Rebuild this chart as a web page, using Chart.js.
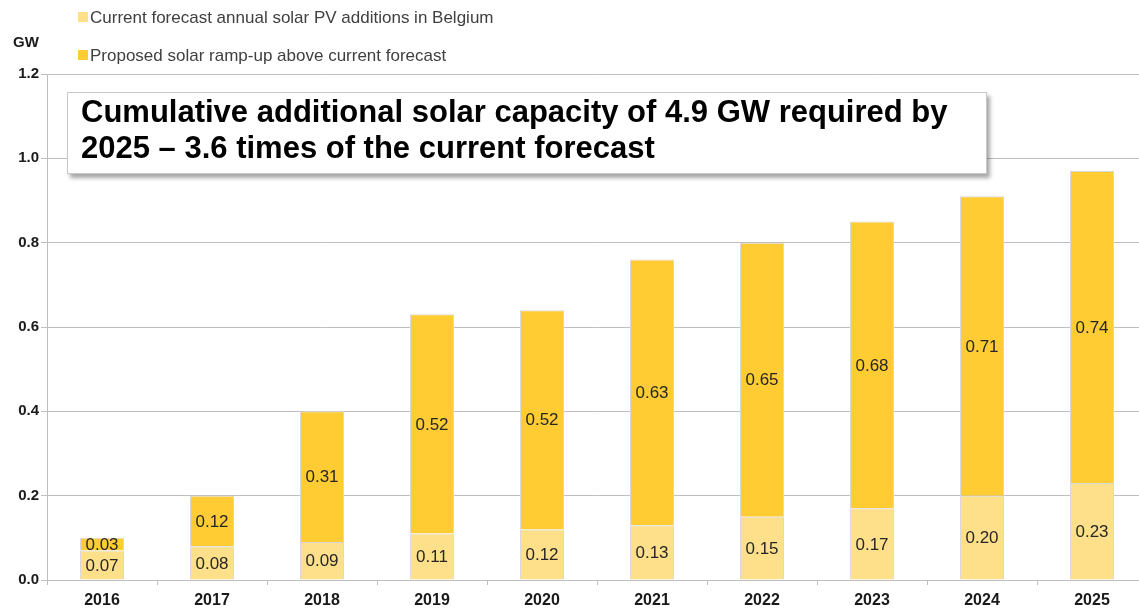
<!DOCTYPE html>
<html>
<head>
<meta charset="utf-8">
<script src="https://cdn.jsdelivr.net/npm/chart.js@4.4.1/dist/chart.umd.min.js"></script>
<style>
  html, body { margin: 0; padding: 0; background: #fff; overflow: hidden; }
  #wrap { position: relative; width: 1139px; height: 610px; overflow: hidden; font-family: "Liberation Sans", Arial, sans-serif; }
  canvas { position: absolute; left: 0; top: 0; }
  .legend-item { position: absolute; left: 78px; font-size: 17px; color: #404040; white-space: nowrap; }
  .legend-item span { display: inline-block; width: 10px; height: 10px; margin-right: 2px; vertical-align: 1px; }
  #unit { position: absolute; left: 13px; top: 33px; font-size: 15px; font-weight: bold; color: #1a1a1a; }
  #titlebox {
    position: absolute; left: 67px; top: 92px; width: 905px; height: 79px;
    background: #fff; border: 1px solid #c8c8c8; box-shadow: 3px 4px 4px rgba(0,0,0,0.35);
    padding: 1px 0 0 13px; font-size: 31px; font-weight: bold; line-height: 36px; color: #000;
  }
</style>
</head>
<body>
<div id="wrap">
  <!-- the plot runs a little past the right edge, as in the cropped original -->
  <canvas id="chart" width="1150" height="610"></canvas>
  <div class="legend-item" style="top:8px"><span style="background:#FFE08A"></span>Current forecast annual solar PV additions in Belgium</div>
  <div class="legend-item" style="top:46px"><span style="background:#FFCC33"></span>Proposed solar ramp-up above current forecast</div>
  <div id="unit">GW</div>
  <div id="titlebox">Cumulative additional solar capacity of 4.9 GW required by<br>2025 – 3.6 times of the current forecast</div>
</div>
<script>
// --- DATA ---
const years = ['2016', '2017', '2018', '2019', '2020', '2021', '2022', '2023', '2024', '2025'];
const currentForecast = [0.07, 0.08, 0.09, 0.11, 0.12, 0.13, 0.15, 0.17, 0.20, 0.23];
const proposedRampUp = [0.03, 0.12, 0.31, 0.52, 0.52, 0.63, 0.65, 0.68, 0.71, 0.74];
const yTicks = [0, 0.2, 0.4, 0.6, 0.8, 1.0, 1.2];

// value labels in the middle of each segment
const segmentLabels = {
    id: 'segmentLabels',
    afterDatasetsDraw(chart) {
        const ctx = chart.ctx;
        ctx.save();
        ctx.font = '17px "Liberation Sans", Arial, sans-serif';
        ctx.fillStyle = '#262626';
        ctx.textAlign = 'center';
        ctx.textBaseline = 'middle';
        chart.data.datasets.forEach((ds, i) => {
            chart.getDatasetMeta(i).data.forEach((bar, j) => {
                const mid = (bar.y + bar.base) / 2;
                ctx.fillText(ds.data[j].toFixed(2), bar.x, mid + 1);
            });
        });
        ctx.restore();
    }
};

const ctx = document.getElementById('chart').getContext('2d');
new Chart(ctx, {
    type: 'bar',
    data: {
        labels: years,
        datasets: [
            {
                label: 'Current forecast annual solar PV additions in Belgium',
                data: currentForecast,
                backgroundColor: '#FFE08A',
                borderColor: '#d9d9d9',
                borderWidth: 1,
                borderSkipped: 'bottom',
                categoryPercentage: 1,
                barPercentage: 0.4
            },
            {
                label: 'Proposed solar ramp-up above current forecast',
                data: proposedRampUp,
                backgroundColor: '#FFCC33',
                borderColor: '#d9d9d9',
                borderWidth: 1,
                borderSkipped: 'bottom',
                categoryPercentage: 1,
                barPercentage: 0.4
            }
        ]
    },
    options: {
        responsive: false,
        animation: false,
        layout: { padding: { top: 74, right: 3, left: 0, bottom: 0 } },
        plugins: {
            legend: { display: false },
            tooltip: { enabled: false }
        },
        scales: {
            x: {
                stacked: true,
                grid: { display: true, drawOnChartArea: false, offset: true, color: '#bfbfbf', tickLength: 5 },
                border: { color: '#bfbfbf' },
                ticks: {
                    color: '#1a1a1a',
                    font: { family: '"Liberation Sans", Arial, sans-serif', size: 16, weight: 'bold' },
                    padding: 6
                },
                afterFit(scale) { scale.height = 30; }
            },
            y: {
                stacked: true,
                min: 0,
                max: 1.2,
                afterBuildTicks(scale) { scale.ticks = yTicks.map(v => ({ value: v })); },
                grid: { color: '#bfbfbf', tickLength: 6 },
                border: { color: '#bfbfbf' },
                ticks: {
                    color: '#1a1a1a',
                    font: { family: '"Liberation Sans", Arial, sans-serif', size: 15, weight: 'bold' },
                    padding: 2,
                    callback: v => v.toFixed(1)
                },
                afterFit(scale) { scale.width = 47; }
            }
        }
    },
    plugins: [segmentLabels]
});
</script>
</body>
</html>
